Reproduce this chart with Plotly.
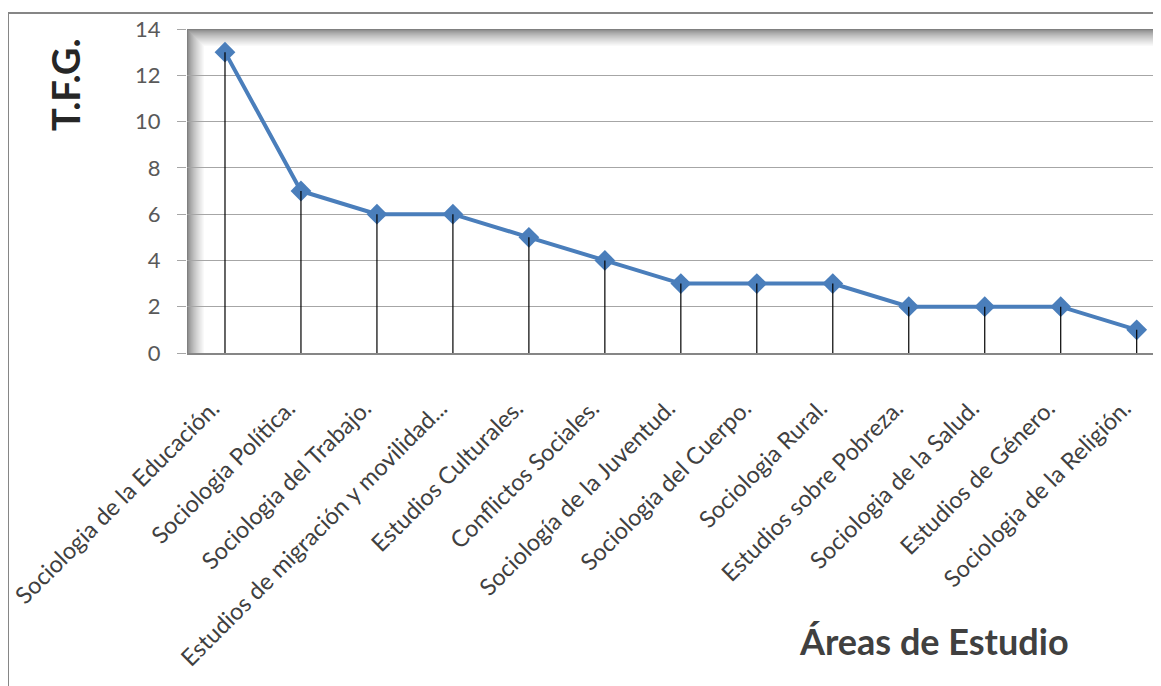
import plotly.graph_objects as go

categories = [
    "Sociologia de la Educación.",
    "Sociologia Política.",
    "Sociologia del Trabajo.",
    "Estudios de migración y movilidad...",
    "Estudios Culturales.",
    "Conflictos Sociales.",
    "Sociología de la Juventud.",
    "Sociologia del Cuerpo.",
    "Sociologia Rural.",
    "Estudios sobre Pobreza.",
    "Sociologia de la Salud.",
    "Estudios de Género.",
    "Sociologia de la Religión.",
]
values = [13, 7, 6, 6, 5, 4, 3, 3, 3, 2, 2, 2, 1]
y_ticks = [0, 2, 4, 6, 8, 10, 12, 14]

OFF = 8  # page body margin
W, H = 1161 - OFF, 686 - OFF
ML, MR, MT, MB = 187 - OFF, 0, 29 - OFF, 333
PW, PH = W - ML - MR, H - MT - MB

FONT = "Lato"
idx = list(range(len(categories)))
pad = "\u2003"
tick_text = [c + pad for c in categories]

fig = go.Figure()
fig.add_trace(go.Scatter(
    x=idx, y=values, mode="lines+markers",
    line=dict(color="#4a7ebb", width=4),
    marker=dict(symbol="diamond", size=16, color="#4a7ebb"),
    showlegend=False, hoverinfo="skip",
))
fig.add_trace(go.Scatter(
    x=idx, y=values, mode="markers",
    marker=dict(size=1, opacity=0),
    error_y=dict(type="data", symmetric=False, array=[0] * len(values),
                 arrayminus=values, color="black", thickness=1.2, width=0),
    showlegend=False, hoverinfo="skip",
))

shapes = []
steps = 17
for i in range(steps):
    g = int(128 + (255 - 128) * (i / steps) ** 0.7)
    col = f"rgb({g},{g},{g})"
    shapes.append(dict(type="rect", xref="paper", yref="paper", layer="below",
                       x0=0, x1=1, y0=1 - (i + 1) / PH, y1=1 - i / PH,
                       line=dict(width=0), fillcolor=col))
for i in range(steps):
    g = int(128 + (255 - 128) * (i / steps) ** 0.7)
    col = f"rgb({g},{g},{g})"
    shapes.append(dict(type="rect", xref="paper", yref="paper", layer="below",
                       x0=i / PW, x1=(i + 1) / PW, y0=0, y1=1 - i / PH,
                       line=dict(width=0), fillcolor=col))
# outer chart border (top and left visible)
bx = (8 - OFF - ML) / PW
by = (H - (13 - OFF) - MB) / PH
shapes.append(dict(type="line", xref="paper", yref="paper", x0=bx, x1=1.05, y0=by, y1=by,
                   line=dict(color="#868686", width=2)))
shapes.append(dict(type="line", xref="paper", yref="paper", x0=bx, x1=bx, y0=by, y1=-2,
                   line=dict(color="#868686", width=2)))

annotations = [
    dict(text="<b>T.F.G.</b>", textangle=-90, xref="paper", yref="paper",
         x=(65 - OFF - ML) / PW, y=(H - (85 - OFF) - MB) / PH, showarrow=False,
         font=dict(family=FONT, size=38, color="#262626"),
         xanchor="center", yanchor="middle"),
    dict(text="<b>Áreas de Estudio</b>", xref="paper", yref="paper",
         x=(934 - OFF - ML) / PW, y=(H - (641 - OFF) - MB) / PH, showarrow=False,
         font=dict(family=FONT, size=36, color="#404040"),
         xanchor="center", yanchor="middle"),
]

fig.update_layout(
    width=W, height=H,
    margin=dict(l=ML, r=MR, t=MT, b=MB, pad=0),
    paper_bgcolor="white", plot_bgcolor="white",
    shapes=shapes, annotations=annotations,
    font=dict(family=FONT, color="#595959"),
)
fig.update_xaxes(
    range=[-0.5, 12.32], tickmode="array", tickvals=idx, ticktext=tick_text,
    tickangle=-45, tickfont=dict(family=FONT, size=23.5, color="#404040"),
    ticklabelstandoff=18,
    showgrid=False, showline=True, linecolor="#868686", linewidth=1.5,
    ticks="", zeroline=False,
)
fig.update_yaxes(
    range=[0, 14], tickmode="array", tickvals=y_ticks,
    tickfont=dict(family=FONT, size=22, color="#595959"),
    ticklabelstandoff=12,
    showgrid=True, gridcolor="#a6a6a6", gridwidth=1,
    ticks="outside", ticklen=9, tickcolor="#a6a6a6",
    showline=False, zeroline=False,
)
fig.write_html("out.html")
